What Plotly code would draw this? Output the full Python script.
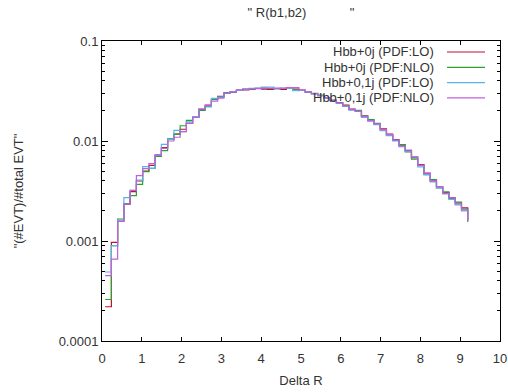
import numpy as np
import plotly.graph_objects as go

# ---- data ----
BIN_WIDTH = np.pi / 20          # Delta R bin width
bin_index = list(range(1, 59))  # bin k is centred at k*BIN_WIDTH

series_names = ["Hbb+0j (PDF:LO)", "Hbb+0j (PDF:NLO)", "Hbb+0,1j (PDF:LO)", "Hbb+0,1j (PDF:NLO)"]
series_colors = ["#c0102a", "#2ca02c", "#56b4e9", "#c060e0"]

hbb0_lo = [2.2e-4, 9.7e-4, 1.57e-3, 2.34e-3, 3.11e-3, 3.98e-3, 5.0e-3, 5.7e-3, 7.2e-3, 8.6e-3,
           1.04e-2, 1.17e-2, 1.31e-2, 1.5e-2, 1.72e-2, 2.07e-2, 2.25e-2, 2.6e-2, 2.8e-2, 3.02e-2,
           3.08e-2, 3.2e-2, 3.25e-2, 3.3e-2, 3.36e-2, 3.3e-2, 3.28e-2, 3.36e-2, 3.28e-2, 3.4e-2,
           3.3e-2, 3.22e-2, 3.1e-2, 2.98e-2, 2.85e-2, 2.7e-2, 2.55e-2, 2.42e-2, 2.28e-2, 2.08e-2,
           2.0e-2, 1.78e-2, 1.62e-2, 1.48e-2, 1.32e-2, 1.17e-2, 1.03e-2, 9.1e-3, 8.0e-3, 6.8e-3,
           5.8e-3, 4.7e-3, 4.0e-3, 3.5e-3, 3.05e-3, 2.7e-3, 2.4e-3, 2.15e-3]
hbb0_nlo = [2.6e-4, 9.0e-4, 1.66e-3, 2.36e-3, 2.84e-3, 3.69e-3, 4.93e-3, 5.33e-3, 7.0e-3, 8.0e-3,
            1.05e-2, 1.17e-2, 1.42e-2, 1.61e-2, 1.75e-2, 2.02e-2, 2.2e-2, 2.6e-2, 2.75e-2, 3.05e-2,
            3.1e-2, 3.22e-2, 3.3e-2, 3.32e-2, 3.35e-2, 3.36e-2, 3.35e-2, 3.34e-2, 3.36e-2, 3.38e-2,
            3.25e-2, 3.2e-2, 3.08e-2, 3.0e-2, 2.88e-2, 2.7e-2, 2.55e-2, 2.38e-2, 2.25e-2, 2.06e-2,
            2.02e-2, 1.76e-2, 1.64e-2, 1.5e-2, 1.3e-2, 1.14e-2, 1.02e-2, 9.2e-3, 7.8e-3, 6.6e-3,
            5.7e-3, 4.6e-3, 4.1e-3, 3.4e-3, 3.1e-3, 2.65e-3, 2.45e-3, 2.1e-3]
hbb01_lo = [4.9e-4, 9.0e-4, 1.62e-3, 2.71e-3, 3.21e-3, 4.07e-3, 5.54e-3, 5.33e-3, 7.2e-3, 9.27e-3,
            1.04e-2, 1.28e-2, 1.24e-2, 1.55e-2, 1.75e-2, 2.09e-2, 2.2e-2, 2.67e-2, 2.75e-2, 3.0e-2,
            3.12e-2, 3.2e-2, 3.28e-2, 3.36e-2, 3.38e-2, 3.45e-2, 3.45e-2, 3.32e-2, 3.35e-2, 3.35e-2,
            3.18e-2, 3.2e-2, 3.12e-2, 2.95e-2, 2.85e-2, 2.68e-2, 2.5e-2, 2.38e-2, 2.22e-2, 2.04e-2,
            1.98e-2, 1.72e-2, 1.58e-2, 1.46e-2, 1.27e-2, 1.13e-2, 1.0e-2, 8.8e-3, 7.9e-3, 7.0e-3,
            5.5e-3, 4.6e-3, 3.9e-3, 3.4e-3, 2.95e-3, 2.6e-3, 2.3e-3, 2.0e-3]
hbb01_nlo = [4.5e-4, 6.6e-4, 1.57e-3, 2.34e-3, 3.21e-3, 4.5e-3, 5.3e-3, 5.93e-3, 7.3e-3, 8.45e-3,
             1.0e-2, 1.09e-2, 1.24e-2, 1.5e-2, 1.72e-2, 2.09e-2, 2.3e-2, 2.51e-2, 2.68e-2, 3.0e-2,
             3.1e-2, 3.25e-2, 3.3e-2, 3.33e-2, 3.34e-2, 3.38e-2, 3.37e-2, 3.36e-2, 3.38e-2, 3.42e-2,
             3.42e-2, 3.24e-2, 3.1e-2, 2.98e-2, 2.82e-2, 2.72e-2, 2.55e-2, 2.4e-2, 2.24e-2, 2.07e-2,
             1.98e-2, 1.76e-2, 1.6e-2, 1.48e-2, 1.3e-2, 1.16e-2, 1.02e-2, 8.9e-3, 8.1e-3, 6.9e-3,
             5.7e-3, 4.8e-3, 4.0e-3, 3.5e-3, 3.0e-3, 2.7e-3, 2.35e-3, 2.05e-3]
tail_values = [1.6e-3, 1.55e-3, 1.6e-3, 1.6e-3]   # where the final drop ends

y_tick_vals = [1e-4, 1e-3, 1e-2, 1e-1]
y_tick_text = ["0.0001", "0.001", "0.01", "0.1"]
x_tick_vals = list(range(0, 11))

all_series = [hbb0_lo, hbb0_nlo, hbb01_lo, hbb01_nlo]

# ---- figure ----
FONT = "Liberation Sans, Arial, sans-serif"
TXT = "#333333"
centers = np.array(bin_index) * BIN_WIDTH
edges = np.concatenate([centers - BIN_WIDTH / 2, [centers[-1] + BIN_WIDTH / 2]])

fig = go.Figure()
for name, col, vals, tail in zip(series_names, series_colors, all_series, tail_values):
    fig.add_trace(go.Scatter(
        x=edges, y=list(vals) + [tail], mode="lines", name=name,
        line=dict(color=col, width=1.2, shape="hv"), showlegend=False))

minor_vals = [m * 10.0 ** e for e in range(-4, -1) for m in range(2, 10)]

fig.update_layout(
    width=508, height=392,
    margin=dict(l=102, r=8, t=41, b=51, autoexpand=False),
    paper_bgcolor="white", plot_bgcolor="white",
    font=dict(family=FONT, size=13, color=TXT),
    title=dict(text='"\u00a0R(b1,b2)' + "\u00a0" * 12 + '"', x=0.5, xref="paper", xanchor="center",
               y=1 - 12 / 392, yref="container", yanchor="middle",
               font=dict(family=FONT, size=13, color=TXT)),
    xaxis=dict(range=[0, 10], tickvals=x_tick_vals, ticks="inside", ticklen=4,
               tickcolor="#000", showline=True, linecolor="#000", linewidth=1, mirror="ticks",
               showgrid=False, zeroline=False, automargin=False, ticklabelstandoff=5,
               title=dict(text="Delta R", standoff=11, font=dict(size=13, color=TXT)),
               tickfont=dict(size=13, color=TXT)),
    yaxis=dict(type="log", range=[-4, -1], tickvals=y_tick_vals, ticktext=y_tick_text,
               ticks="inside", ticklen=6, tickcolor="#000", showline=True, linecolor="#000",
               linewidth=1, mirror="ticks", showgrid=False, zeroline=False, automargin=False,
               minor=dict(tickvals=minor_vals, ticks="inside", ticklen=3, tickcolor="#000"),
               title=dict(text='"(#EVT)/#total EVT"', standoff=32, font=dict(size=13, color=TXT)),
               tickfont=dict(size=13, color=TXT)),
)

# gnuplot-style key (text left of line sample), top right
key_rows_px = [52, 67.3, 82.6, 97.9]
for name, col, py in zip(series_names, series_colors, key_rows_px):
    yp = (341 - py) / 300
    fig.add_annotation(x=(436 - 102) / 398, y=yp, xref="paper", yref="paper", text=name,
                       showarrow=False, xanchor="right", yanchor="middle",
                       font=dict(family=FONT, size=13, color=TXT))
    fig.add_shape(type="line", xref="paper", yref="paper",
                  x0=(447 - 102) / 398, x1=(485 - 102) / 398, y0=yp, y1=yp,
                  line=dict(color=col, width=1.2))

fig.write_html("out.html")
